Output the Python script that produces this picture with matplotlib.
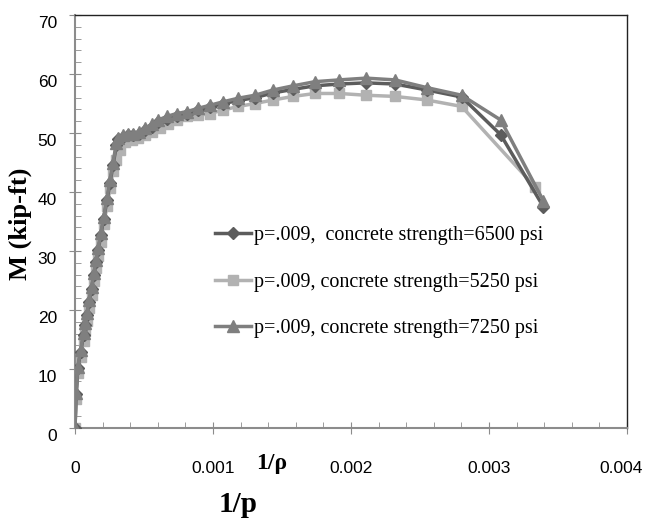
import matplotlib
matplotlib.use("Agg")
import matplotlib.pyplot as plt
import matplotlib.transforms as mtransforms
from matplotlib.ticker import MultipleLocator, FuncFormatter

# 1/rho values and moments
x_7250 = [0, 0.000008, 0.00002, 0.000041, 0.000062, 0.000075, 0.000087, 0.000103, 0.00012,
          0.000137, 0.000154, 0.000168, 0.000187, 0.000208, 0.000232, 0.000254, 0.000275, 0.0003,
          0.000314, 0.00035, 0.000386, 0.000423, 0.000466, 0.000507, 0.000556, 0.000604, 0.000664,
          0.000737, 0.000809, 0.000894, 0.000978, 0.001075, 0.001184, 0.001304, 0.001437, 0.001582,
          0.001739, 0.001915, 0.002109, 0.002319, 0.002548, 0.002802, 0.003085, 0.003394]
m_7250 = [0, 5.9, 10.4, 13.2, 16.1, 17.8, 19.5, 21.7, 23.9,
          26.3, 28.5, 30.5, 33.0, 35.8, 39.0, 42.0, 44.9, 48.3,
          49.1, 49.7, 49.8, 49.9, 50.2, 50.8, 51.5, 52.2, 52.8,
          53.3, 53.6, 54.2, 54.7, 55.3, 55.9, 56.4, 57.3, 58.0,
          58.7, 59.0, 59.3, 59.0, 57.7, 56.4, 52.2, 38.5]

x_6500 = x_7250
m_6500 = [0, 5.7, 10.1, 12.9, 15.8, 17.5, 19.2, 21.4, 23.6,
          26.0, 28.2, 30.2, 32.7, 35.5, 38.6, 41.6, 44.5, 47.9,
          48.9, 49.4, 49.6, 49.7, 49.9, 50.5, 51.1, 51.8, 52.4,
          52.9, 53.3, 53.9, 54.4, 55.0, 55.5, 56.0, 56.8, 57.4,
          58.0, 58.3, 58.5, 58.3, 57.3, 56.1, 49.7, 37.5]

x_5250 = [0, 0.000008, 0.00002, 0.000041, 0.000062, 0.000075, 0.000087, 0.000103, 0.00012,
          0.000137, 0.000154, 0.000168, 0.000187, 0.000208, 0.000232, 0.000254, 0.000275, 0.0003,
          0.000326, 0.000362, 0.000411, 0.000459, 0.000507, 0.000556, 0.000616, 0.000676, 0.000737,
          0.000809, 0.000894, 0.000978, 0.001075, 0.001184, 0.001304, 0.001437, 0.00158,
          0.001739, 0.001915, 0.002109, 0.002319, 0.002548, 0.002802, 0.003333]
m_5250 = [0, 5.0, 9.3, 12.0, 14.8, 16.5, 18.2, 20.4, 22.6,
          25.0, 27.2, 29.2, 31.6, 34.5, 37.6, 40.6, 43.6, 45.5,
          47.1, 48.5, 48.8, 49.1, 49.7, 50.2, 50.8, 51.6, 52.2,
          52.8, 53.0, 53.3, 53.9, 54.5, 55.0, 55.6, 56.2,
          56.7, 56.7, 56.4, 56.2, 55.6, 54.5, 40.9]

labels = ['p=.009,  concrete strength=6500 psi',
          'p=.009, concrete strength=5250 psi',
          'p=.009, concrete strength=7250 psi']

serif = ['Liberation Serif', 'DejaVu Serif']
sans = ['Liberation Sans', 'DejaVu Sans']

fig = plt.figure(figsize=(6.45, 5.25), dpi=100)
ax = fig.add_axes([75 / 645, 97 / 525, 552 / 645, 413 / 525])

ax.plot(x_6500, m_6500, color='#5c5c5c', lw=2.5, marker='D', ms=6, label=labels[0], zorder=3)
ax.plot(x_5250, m_5250, color='#b2b2b2', lw=2.5, marker='s', ms=7, label=labels[1], zorder=2)
ax.plot(x_7250, m_7250, color='#7f7f7f', lw=2.5, marker='^', ms=8, label=labels[2], zorder=4)

ax.set_xlim(0, 0.004)
ax.set_ylim(0, 70)
ax.set_xticks([0, 0.001, 0.002, 0.003, 0.004])
ax.xaxis.set_minor_locator(MultipleLocator(0.0002))
ax.yaxis.set_major_locator(MultipleLocator(10))
ax.yaxis.set_minor_locator(MultipleLocator(2))
ax.xaxis.set_major_formatter(FuncFormatter(lambda v, p: '0' if abs(v) < 1e-9 else f'{v:.3f}'))

for s in ['left', 'bottom']:
    ax.spines[s].set_color('#8c8c8c')
    ax.spines[s].set_linewidth(1.5)
for s in ['top', 'right']:
    ax.spines[s].set_color('#222222')
    ax.spines[s].set_linewidth(1.0)

ax.tick_params(axis='x', which='major', direction='inout', length=8, color='#8c8c8c', pad=20)
ax.tick_params(axis='x', which='minor', direction='in', length=4, color='#8c8c8c')
ax.tick_params(axis='y', which='major', direction='inout', length=8, color='#8c8c8c', pad=9)
ax.tick_params(axis='y', which='minor', direction='in', length=4, color='#8c8c8c')

fig.canvas.draw()
for lab in ax.get_xticklabels() + ax.get_yticklabels():
    lab.set_fontfamily(sans)
    lab.set_fontsize(12.5)
# y labels sit a little below their ticks in the original
shift = mtransforms.ScaledTranslation(0, -7 / 100, fig.dpi_scale_trans)
for lab in ax.get_yticklabels():
    lab.set_transform(lab.get_transform() + shift)
# last x label is pulled in a bit so it stays on the canvas
for lab in ax.get_xticklabels():
    if lab.get_text() == '0.004':
        lab.set_transform(lab.get_transform() +
                          mtransforms.ScaledTranslation(-6 / 100, 0, fig.dpi_scale_trans))

leg = ax.legend(loc='center left', bbox_to_anchor=(140 / 552, (428 - 282) / 413),
                frameon=False, borderpad=0, borderaxespad=0, handlelength=1.8,
                handletextpad=0.15, labelspacing=1.35,
                prop={'family': serif, 'size': 14.5})

fig.text(20 / 645, 1 - 224 / 525, 'M (kip-ft)', rotation=90, ha='center', va='center',
         family=serif, weight='bold', fontsize=19)
fig.text(272 / 645, 1 - 463 / 525, '1/ρ', ha='center', va='center',
         family=serif, weight='bold', fontsize=17)
fig.text(238 / 645, 1 - 505 / 525, '1/p', ha='center', va='center',
         family=serif, weight='bold', fontsize=21)

fig.savefig('out.png', dpi=100)
